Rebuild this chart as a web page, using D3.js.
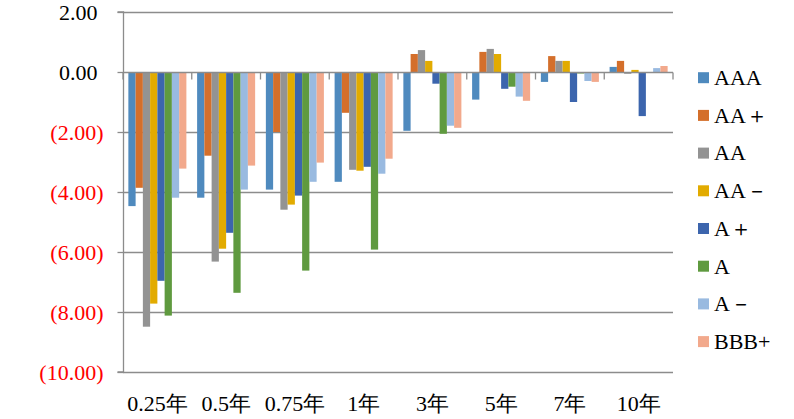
<!DOCTYPE html>
<html><head><meta charset="utf-8">
<script src="https://cdn.jsdelivr.net/npm/d3@7"></script>
</head><body style="margin:0">
<svg id="c" width="794" height="419"></svg>
<script>
const categories = ["0.25年","0.5年","0.75年","1年","3年","5年","7年","10年"];
const seriesNames = ["AAA","AA＋","AA","AA－","A＋","A","A－","BBB+"];
const colors = ["#4F8ABE","#D46F2B","#939393","#E2AB00","#3C65AD","#5F9A3F","#99BAE0","#F2A98C"];
const sAAA  = [-4.47,-4.19,-3.92,-3.66,-1.96,-0.92,-0.33, 0.17];
const sAAp  = [-3.86,-2.79,-2.00,-1.36, 0.60, 0.67, 0.53, 0.37];
const sAA   = [-8.49,-6.32,-4.59,-3.26, 0.73, 0.77, 0.37,-0.06];
const sAAm  = [-7.72,-5.89,-4.42,-3.29, 0.37, 0.60, 0.37, 0.07];
const sAp   = [-6.96,-5.36,-4.12,-3.16,-0.39,-0.56,-1.00,-1.47];
const sA    = [-8.12,-7.36,-6.62,-5.92,-2.06,-0.49,-0.05, 0.00];
const sAm   = [-4.19,-3.92,-3.66,-3.39,-1.79,-0.82,-0.30, 0.13];
const sBBBp = [-3.22,-3.12,-3.02,-2.89,-1.86,-0.96,-0.33, 0.20];
const yTicks = [2,0,-2,-4,-6,-8,-10];

const seriesValues = [sAAA,sAAp,sAA,sAAm,sAp,sA,sAm,sBBBp];
const fam = "Liberation Serif";

function draw(){
const svg = d3.select("#c");
svg.selectAll("*").remove();
const pL = 123, pR = 673, pT = 12, pB = 372;
const y = d3.scaleLinear().domain([-10,2]).range([pB, pT]);
const x0 = d3.scaleBand().domain(categories).range([pL,pR]).paddingInner(0.156).paddingOuter(0.078);
const x1 = d3.scaleBand().domain(seriesNames).range([0, x0.bandwidth()]).padding(0);
const grid = "#8C8C8C";

svg.append("g").selectAll("line").data(yTicks.filter(t=>t!==0)).join("line")
  .attr("x1",pL).attr("x2",pR)
  .attr("y1",d=>y(d)+0.5).attr("y2",d=>y(d)+0.5)
  .attr("stroke",grid).attr("stroke-width",1.3);

const groups = svg.append("g").selectAll("g").data(categories).join("g")
  .attr("transform",c=>`translate(${x0(c)},0)`);
groups.selectAll("rect").data((c,i)=>seriesNames.map((s,j)=>({s,j,v:seriesValues[j][i]}))).join("rect")
  .attr("x",d=>x1(d.s)).attr("width",x1.bandwidth())
  .attr("y",d=>y(Math.max(0,d.v))).attr("height",d=>Math.abs(y(d.v)-y(0)))
  .attr("fill",d=>colors[d.j]);

const yAxis = d3.axisLeft(y).tickValues(yTicks).tickSize(6).tickPadding(8)
  .tickFormat(d=> d<0 ? "(" + d3.format(".2f")(-d) + ")" : d3.format(".2f")(d));
const gy = svg.append("g").attr("transform",`translate(${pL+0.5},0)`).call(yAxis);
gy.attr("font-family",null).attr("font-size",null);
gy.select(".domain").attr("stroke",grid).attr("stroke-width",1.3).attr("d",`M-6,${y(2)}H0V${y(-10)}H-6`);
gy.selectAll(".tick line").attr("stroke",grid).attr("stroke-width",1.3);
gy.selectAll(".tick text").attr("font-size",22).style("font-family",`"${fam}"`)
  .attr("fill",d=>d<0?"#FF0000":"#000")
  .attr("x",d=>d<0?-20:-26);

const xAxis = d3.axisBottom(x0).tickSize(0).tickFormat(()=>"");
const gx = svg.append("g").attr("transform",`translate(0,${y(0)+0.5})`).call(xAxis);
gx.select(".domain").attr("stroke",grid).attr("stroke-width",1.3).attr("d",`M${pL},0H${pR}`);
const bounds = d3.range(categories.length+1).map(i=>pL + i*(pR-pL)/categories.length);
gx.selectAll("line.b").data(bounds).join("line").attr("class","b")
  .attr("x1",d=>d).attr("x2",d=>d).attr("y1",0).attr("y2",7)
  .attr("stroke",grid).attr("stroke-width",1.3);

svg.append("g").selectAll("text").data(categories).join("text")
  .attr("x",c=>x0(c)+x0.bandwidth()/2).attr("y",411)
  .attr("text-anchor","middle").attr("font-size",22).style("font-family",`"${fam}"`).attr("fill","#000")
  .text(c=>c);

const leg = svg.append("g").selectAll("g").data(seriesNames).join("g")
  .attr("transform",(d,i)=>`translate(698,${77.7+i*37.7})`);
leg.append("rect").attr("x",0).attr("y",-5.5).attr("width",11).attr("height",11).attr("fill",(d,i)=>colors[i]);
leg.append("text").attr("x",16).attr("y",7.3).attr("font-size",22).style("font-family",`"${fam}"`).attr("fill","#000").text(d=>d);
}
draw();
if (document.fonts && document.fonts.load) {
  document.fonts.load(`22px "${fam}"`).then(draw).catch(()=>{});
}
</script></body></html>
